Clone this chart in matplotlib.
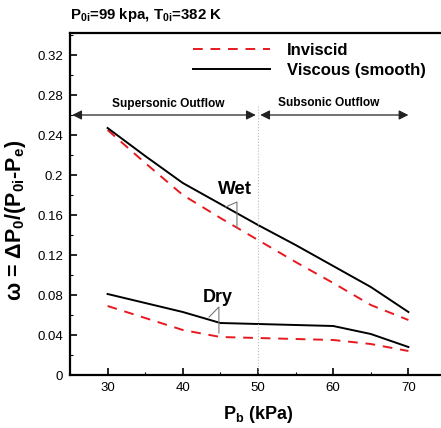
import numpy as np
import matplotlib
matplotlib.use('Agg')
import matplotlib.pyplot as plt
from matplotlib.ticker import MultipleLocator

plt.rcParams['font.family'] = ['Liberation Sans', 'DejaVu Sans']
plt.rcParams['mathtext.fontset'] = 'custom'
plt.rcParams['mathtext.rm'] = 'Liberation Sans'
plt.rcParams['mathtext.bf'] = 'Liberation Sans:bold'

# back pressure (kPa)
pb = [30, 35, 40, 45, 50, 55, 60, 65, 70]

# loss coefficient
wet_viscous = [0.247, 0.219, 0.192, 0.171, 0.150, 0.130, 0.109, 0.088, 0.063]
wet_inviscid = [0.245, 0.212, 0.180, 0.157, 0.135, 0.113, 0.092, 0.070, 0.055]
dry_viscous = [0.081, 0.072, 0.063, 0.052, 0.051, 0.050, 0.049, 0.041, 0.028]
dry_inviscid = [0.069, 0.057, 0.045, 0.038, 0.037, 0.036, 0.035, 0.031, 0.024]

x_ticks = [30, 40, 50, 60, 70]
y_ticks = [0, 0.04, 0.08, 0.12, 0.16, 0.2, 0.24, 0.28, 0.32]
y_tick_labels = ['0', '0.04', '0.08', '0.12', '0.16', '0.2', '0.24', '0.28', '0.32']

fig = plt.figure(figsize=(4.41, 4.28), dpi=100)
ax = fig.add_axes([70/441, 1 - 375/428, 376/441, 342/428])

red = '#e8191e'
ax.plot(pb, wet_inviscid, color=red, ls=(0, (5, 4)), lw=1.4, label='Inviscid')
ax.plot(pb, wet_viscous, color='black', lw=1.4, label='Viscous (smooth)')
ax.plot(pb, dry_inviscid, color=red, ls=(0, (5, 4)), lw=1.4)
ax.plot(pb, dry_viscous, color='black', lw=1.4)

ax.set_xlim(25, 75)
ax.set_ylim(0, 0.342)
ax.set_xticks(x_ticks)
ax.set_yticks(y_ticks)
ax.set_yticklabels(y_tick_labels)
ax.xaxis.set_minor_locator(MultipleLocator(5))
ax.yaxis.set_minor_locator(MultipleLocator(0.02))
ax.tick_params(which='both', direction='in', top=False, right=False, labelsize=9.5, pad=5)
ax.tick_params(which='major', length=5, width=1.2)
ax.tick_params(which='minor', length=2.5, width=0.8)
for s in ax.spines.values():
    s.set_linewidth(1.6)

# subsonic / supersonic divider
ax.axvline(50, ymax=0.27/0.342, color='#bbbbbb', ls=':', lw=0.8)
arr = dict(arrowstyle='<|-|>', color='#222222', lw=0.9, mutation_scale=14, shrinkA=0, shrinkB=0)
ax.annotate('', xy=(25.3, 0.26), xytext=(49.7, 0.26), arrowprops=arr)
ax.annotate('', xy=(50.3, 0.26), xytext=(70.0, 0.26), arrowprops=arr)
ax.text(38.1, 0.2715, 'Supersonic Outflow', ha='center', va='center', fontsize=8.6, fontweight='bold')
ax.text(59.4, 0.2715, 'Subsonic Outflow', ha='center', va='center', fontsize=8.6, fontweight='bold')

# case labels with leader lines
gray = '#777777'
ax.text(47.0, 0.185, 'Wet', ha='center', va='center', fontsize=13.5, fontweight='bold')
ax.plot([45.7, 47.2, 47.2], [0.168, 0.173, 0.147], color=gray, lw=0.8)
ax.text(44.6, 0.077, 'Dry', ha='center', va='center', fontsize=13, fontweight='bold')
ax.plot([43.5, 44.8, 44.8], [0.058, 0.068, 0.042], color=gray, lw=0.8)

leg = ax.legend(loc='upper left', bbox_to_anchor=(0.305, 0.995), frameon=False, borderpad=0,
                handlelength=4.6, handletextpad=1.05, labelspacing=0.3,
                prop={'weight': 'bold', 'size': 12})

ax.set_xlabel('P$_{\\mathbf{b}}$ (kPa)', fontsize=13, fontweight='bold')
ax.xaxis.set_label_coords(0.5, -0.085)
ax.set_ylabel('ω = ΔP$_{\\mathbf{0}}$/(P$_{\\mathbf{0i}}$-P$_{\\mathbf{e}}$)', fontsize=15.5, fontweight='bold')
ax.yaxis.set_label_coords(-0.112, 0.453)

fig.text(70/441, 1 - 15/428, 'P$_{\\mathbf{0i}}$=99 kpa, T$_{\\mathbf{0i}}$=382 K',
         ha='left', va='center', fontsize=10.8, fontweight='bold')

fig.savefig('out.png', dpi=100)
